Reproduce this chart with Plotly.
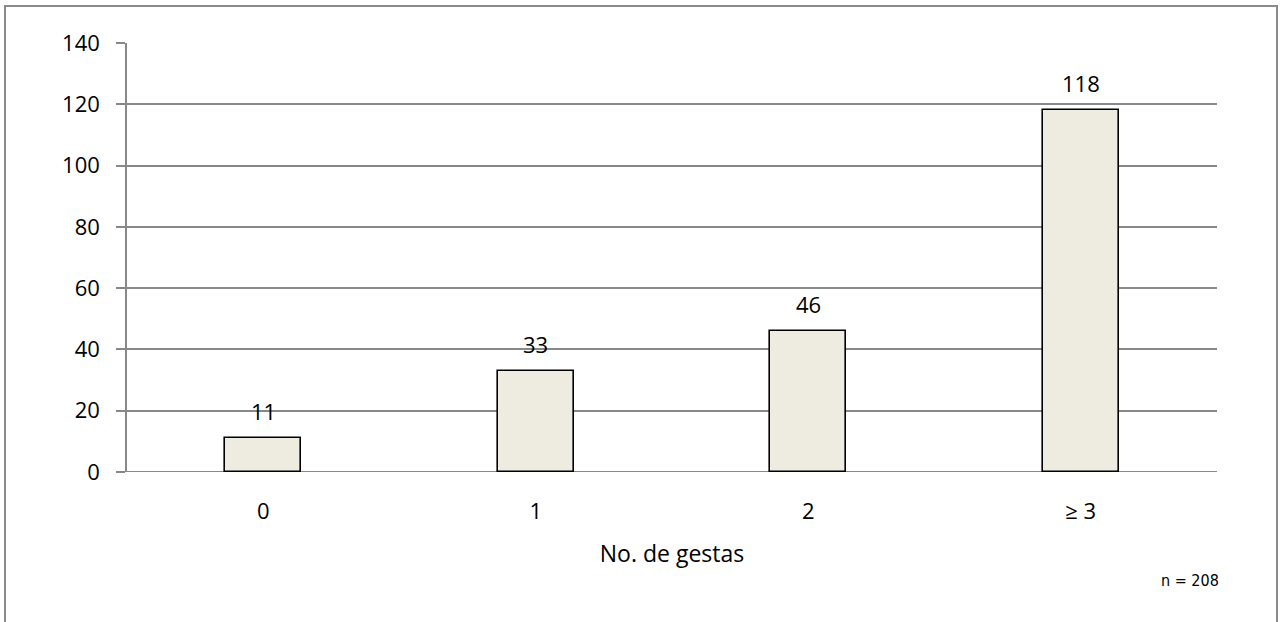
import plotly.graph_objects as go

categories = ["0", "1", "2", "≥ 3"]
values = [11, 33, 46, 118]
y_ticks = [0, 20, 40, 60, 80, 100, 120, 140]
x_title = "No. de gestas"
note = "n = 208"

W, H = 1281, 622
L, R, T, B = 127, 64, 43, 150
pw, ph = W - L - R, H - T - B

grid = "#888888"
font = "Open Sans"
fs = 22

fig = go.Figure(go.Bar(
    x=categories, y=values,
    width=0.28,
    marker=dict(color="#EEEBE0", line=dict(color="#000000", width=1.6)),
))

annotations = [
    dict(x=c, y=v, xref="x", yref="y", text=str(v), showarrow=False,
         xanchor="center", yanchor="middle", yshift=27,
         font=dict(family=font, size=fs, color="#000000"))
    for c, v in zip(categories, values)
]
annotations.append(
    dict(text=note, xref="paper", yref="paper",
         x=(1190 - L) / pw, y=(H - B - 580) / ph,
         xanchor="center", yanchor="middle", showarrow=False,
         font=dict(family="DejaVu Sans Condensed, Liberation Sans Narrow, Roboto", size=16, color="#000000"))
)

fig.update_layout(
    width=W, height=H,
    margin=dict(l=L, r=R, t=T, b=B, pad=0),
    paper_bgcolor="white", plot_bgcolor="white",
    showlegend=False,
    bargap=0,
    xaxis=dict(
        showgrid=False, showline=False, ticks="",
        tickfont=dict(family=font, size=fs, color="#000000"),
        ticklabelstandoff=24,
        title=dict(text=x_title, font=dict(family=font, size=23, color="#000000"), standoff=21),
    ),
    yaxis=dict(
        range=[0, 140], tickvals=y_ticks,
        showgrid=True, gridcolor=grid, gridwidth=1.5,
        zeroline=False,
        showline=True, linecolor=grid, linewidth=1.5,
        ticks="outside", ticklen=9, tickcolor=grid, tickwidth=1.5,
        tickfont=dict(family=font, size=fs, color="#000000"),
        ticklabelstandoff=12,
    ),
    shapes=[
        dict(type="rect", xref="paper", yref="paper",
             x0=(5 - L) / pw, x1=(1277 - L) / pw,
             y0=(H - B - 640) / ph, y1=(H - B - 6) / ph,
             line=dict(color="#8a8a8a", width=2), fillcolor="rgba(0,0,0,0)", layer="below"),
        dict(type="line", xref="paper", yref="y",
             x0=-9 / pw, x1=1, y0=0, y1=0,
             line=dict(color=grid, width=1.8), layer="below"),
    ],
    annotations=annotations,
)

fig.write_html("out.html")
